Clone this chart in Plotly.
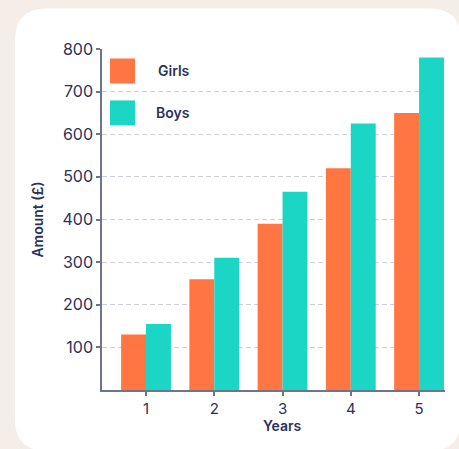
import plotly.graph_objects as go

years = [1, 2, 3, 4, 5]
girls = [130, 260, 390, 520, 650]
boys = [155, 310, 465, 625, 780]
series_names = ["Girls", "Boys"]
colors = ["#FF7643", "#1BD5C5"]
y_ticks = [100, 200, 300, 400, 500, 600, 700, 800]

W, H = 459, 449
L, R, T, B = 102, 14, 48.5, 59
pw, ph = W - L - R, H - T - B

def px(x):
    return (x - L) / pw

def py(y):
    return (H - B - y) / ph

txt = "#29325A"
axc = "#6E7390"

fig = go.Figure()
fig.add_bar(x=years, y=girls, name=series_names[0], marker_color=colors[0], marker_line_width=0)
fig.add_bar(x=years, y=boys, name=series_names[1], marker_color=colors[1], marker_line_width=0)

# card background with rounded corners
x0, x1, y0, y1, r = 15, 461, 8, 451, 32
path = (f"M {px(x0+r)},{py(y0)} L {px(x1-r)},{py(y0)} Q {px(x1)},{py(y0)} {px(x1)},{py(y0+r)} "
        f"L {px(x1)},{py(y1-r)} Q {px(x1)},{py(y1)} {px(x1-r)},{py(y1)} "
        f"L {px(x0+r)},{py(y1)} Q {px(x0)},{py(y1)} {px(x0)},{py(y1-r)} "
        f"L {px(x0)},{py(y0+r)} Q {px(x0)},{py(y0)} {px(x0+r)},{py(y0)} Z")
shapes = [dict(type="path", path=path, xref="paper", yref="paper", fillcolor="white",
               line_width=0, layer="below")]
annotations = []
leg_y = [58, 100]
text_x = [156, 154]
for i, nm in enumerate(series_names):
    shapes.append(dict(type="rect", xref="paper", yref="paper", x0=px(110), x1=px(135),
                       y0=py(leg_y[i]), y1=py(leg_y[i] + 25), fillcolor=colors[i], line_width=0))
    annotations.append(dict(text=nm, xref="paper", yref="paper", x=px(text_x[i]), y=py(leg_y[i] + 12.5),
                            xanchor="left", yanchor="middle", showarrow=False,
                            font=dict(family="Inter", size=14, color=txt, weight=600)))
annotations.append(dict(text="Years", xref="paper", yref="paper", x=px(282), y=py(425.5),
                        xanchor="center", yanchor="middle", showarrow=False,
                        font=dict(family="Inter", size=14, color=txt, weight=600)))

fig.update_layout(
    width=W, height=H,
    margin=dict(l=L, r=R, t=T, b=B),
    paper_bgcolor="#F5EEE8",
    plot_bgcolor="rgba(0,0,0,0)",
    barmode="group", bargap=0.27, bargroupgap=0,
    showlegend=False,
    shapes=shapes, annotations=annotations,
    font=dict(family="Inter", color=txt),
)
fig.update_xaxes(range=[0.355, 5.38], tickvals=years, ticktext=[str(v) for v in years],
                 showgrid=False, showline=True, linecolor=axc, linewidth=1.5,
                 ticks="outside", ticklen=4, tickcolor=axc, tickwidth=1.5,
                 tickfont=dict(size=15, color=txt), zeroline=False)
fig.update_yaxes(range=[0, 800], tickvals=y_ticks, showgrid=True, gridcolor="#CDD0DC",
                 griddash="5px,3px", gridwidth=1, showline=True, linecolor=axc, linewidth=1.5,
                 ticks="outside", ticklen=4, tickcolor=axc, tickwidth=1.5,
                 tickfont=dict(size=16, color=txt), zeroline=False,
                 title=dict(text="Amount (£)", standoff=16, font=dict(size=14, color=txt, weight=600)))

fig.write_html("out.html")
